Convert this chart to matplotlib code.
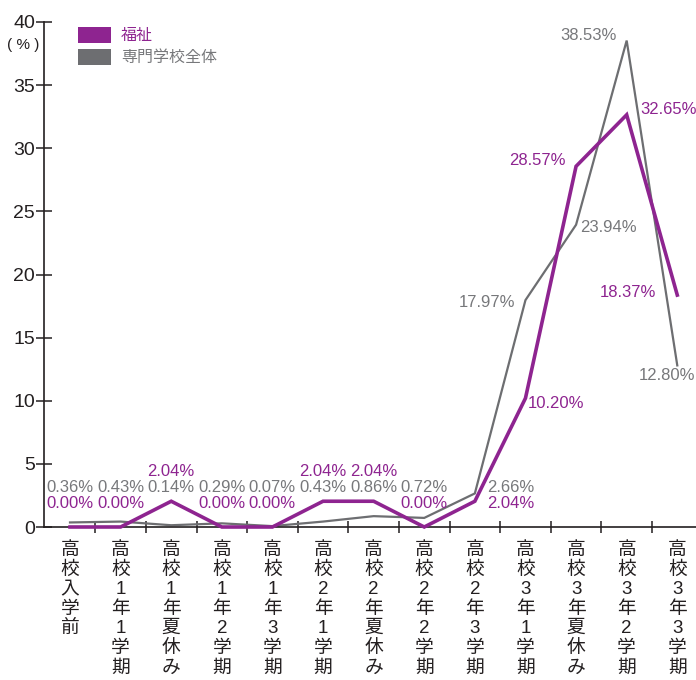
import matplotlib
matplotlib.use("Agg")
import matplotlib.pyplot as plt
from matplotlib.patches import Rectangle

plt.rcParams['font.family'] = ['Liberation Sans', 'Noto Sans CJK JP', 'DejaVu Sans']

categories = ["高校入学前", "高校1年1学期", "高校1年夏休み", "高校1年2学期", "高校1年3学期",
              "高校2年1学期", "高校2年夏休み", "高校2年2学期", "高校2年3学期",
              "高校3年1学期", "高校3年夏休み", "高校3年2学期", "高校3年3学期"]
welfare = [0.00, 0.00, 2.04, 0.00, 0.00, 2.04, 2.04, 0.00, 2.04, 10.20, 28.57, 32.65, 18.37]
overall = [0.36, 0.43, 0.14, 0.29, 0.07, 0.43, 0.86, 0.72, 2.66, 17.97, 23.94, 38.53, 12.80]
yticks = [0, 5, 10, 15, 20, 25, 30, 35, 40]
series_names = ["福祉", "専門学校全体"]

PURPLE = "#8E2490"
GRAY = "#6D6E71"
GRAY_TXT = "#77787B"
INK = "#231F20"

fig = plt.figure(figsize=(6.96, 6.80), dpi=100)
ax = fig.add_axes([44/696, 153/680, 1 - 44/696, 505/680])
x = list(range(len(categories)))

ax.plot(x, overall, color=GRAY, lw=1.6, solid_joinstyle='miter', zorder=2, clip_on=False)
ax.plot(x, welfare, color=PURPLE, lw=2.6, solid_joinstyle='miter', zorder=3, clip_on=False)

ax.set_xlim(-0.514, 12.37)
ax.set_ylim(0, 40)
for s in ['top', 'right']:
    ax.spines[s].set_visible(False)
for s in ['left', 'bottom']:
    ax.spines[s].set_linewidth(1.2)
    ax.spines[s].set_color(INK)

ax.set_yticks(yticks)
ax.set_yticklabels([str(v) for v in yticks], fontsize=14)
ax.tick_params(axis='y', direction='inout', length=11, width=1.1, pad=1, colors=INK)
ax.set_xticks([i + 0.5 for i in range(len(categories) - 1)])
ax.set_xticklabels([])
ax.tick_params(axis='x', direction='inout', length=9, width=1.1, colors=INK)

# vertical category labels
for i, c in enumerate(categories):
    ax.text(i, -1.15, "\n".join(c), ha='center', va='top', fontsize=13.5,
            linespacing=1.2, color=INK, clip_on=False)

ax.text(-0.93, 38.2, "( % )", ha='center', va='center', fontsize=11, color=INK,
        clip_on=False)

fs = 12
for i in range(9):
    dx = 36 if i == 8 else 0
    ax.annotate(f"{overall[i]:.2f}%", (i, 0), xytext=(dx, 40),
                textcoords='offset pixels', ha='center', va='center', fontsize=fs,
                color=GRAY_TXT, annotation_clip=False)
    wy = 56 if welfare[i] > 1 and i != 8 else 24
    ax.annotate(f"{welfare[i]:.2f}%", (i, 0), xytext=(dx, wy),
                textcoords='offset pixels', ha='center', va='center', fontsize=fs,
                color=PURPLE, annotation_clip=False)

upper = [
    (9, overall[9], GRAY_TXT, (-10, -2), 'right'),
    (9, welfare[9], PURPLE, (2, -5), 'left'),
    (10, welfare[10], PURPLE, (-10, 6), 'right'),
    (10, overall[10], GRAY_TXT, (4, -3), 'left'),
    (11, overall[11], GRAY_TXT, (-10, 5), 'right'),
    (11, welfare[11], PURPLE, (14, 5), 'left'),
    (12, welfare[12], PURPLE, (-21, 3), 'right'),
    (12, overall[12], GRAY_TXT, (-10, -10), 'center'),
]
for i, v, col, (dx, dy), ha in upper:
    ax.annotate(f"{v:.2f}%", (i, v), xytext=(dx, dy), textcoords='offset pixels',
                ha=ha, va='center', fontsize=fs, color=col, annotation_clip=False)

for k, (name, col) in enumerate(zip(series_names, [PURPLE, GRAY])):
    y0 = 680 - 43 - k * 22
    fig.patches.append(Rectangle((78/696, y0/680), 33/696, 16/680, transform=fig.transFigure,
                                 facecolor=col, edgecolor='none'))
    fig.text(121/696, (y0 + 8)/680, name, ha='left', va='center', fontsize=11.5,
             color=col if k == 0 else GRAY_TXT)

fig.savefig("out.png", dpi=100)
